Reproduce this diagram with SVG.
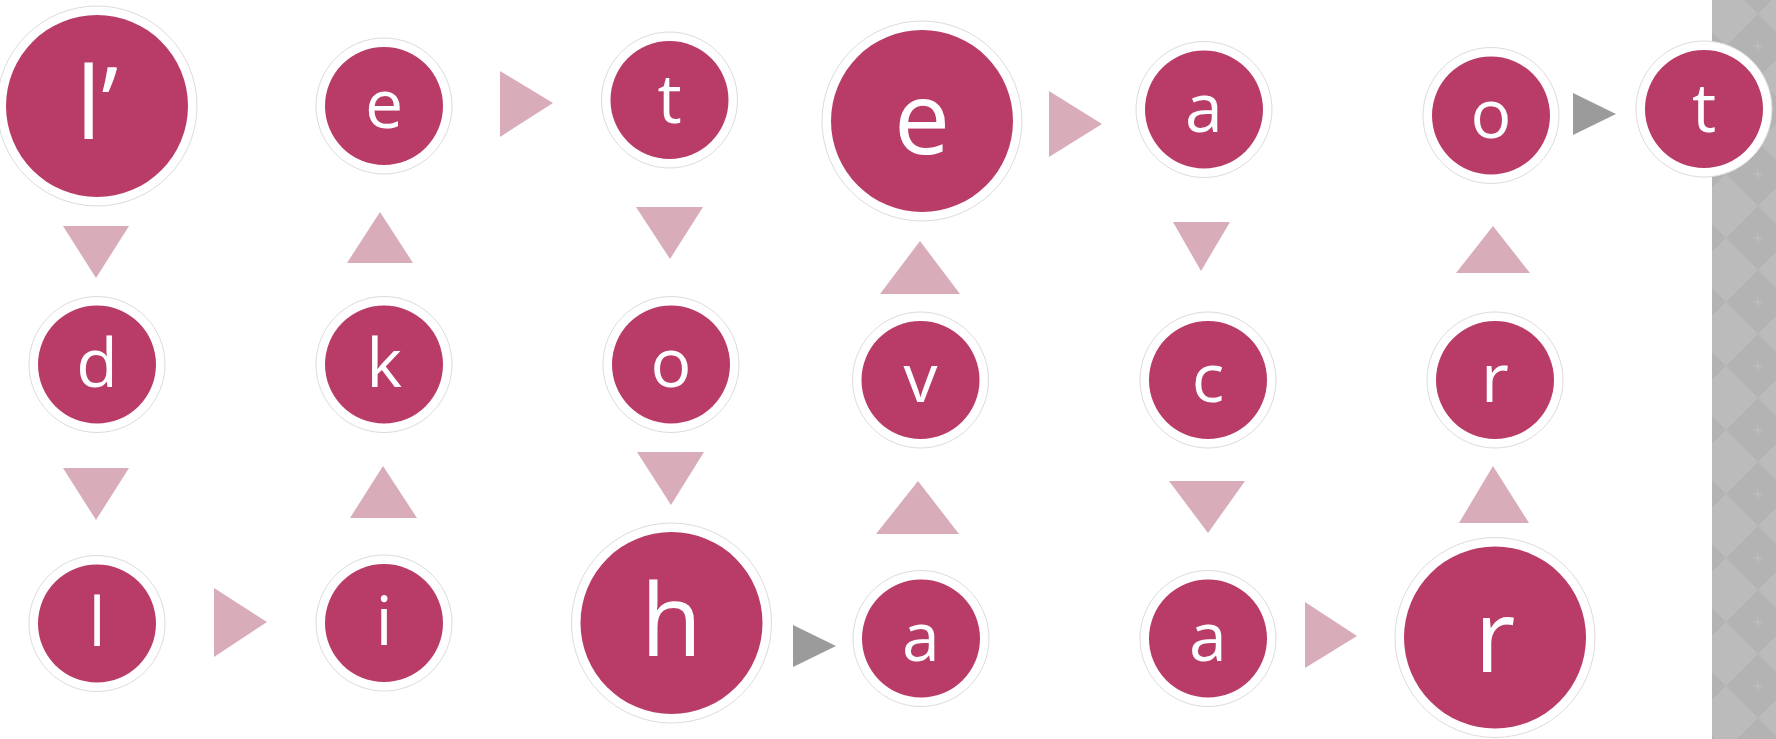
<svg xmlns="http://www.w3.org/2000/svg" width="1776" height="739" viewBox="0 0 1776 739">
<style>
.ring{fill:#ffffff;stroke:#dcdcdc;stroke-width:1}
.fill{fill:#b93b67}
.lt{fill:#ffffff;font-family:"Open Sans","Liberation Sans",sans-serif;text-anchor:middle}
.s{font-size:68px}
.b{font-size:100px}
.pk{fill:#d8adb9}
.gr{fill:#9b9b9b}
</style>
<defs>
<pattern id="argyle" x="1726" y="14" width="64" height="64" patternUnits="userSpaceOnUse">
<rect width="64" height="64" fill="#bbbbbb"/>
<polygon points="32,0 64,32 32,64 0,32" fill="#b3b3b3"/>
<path d="M28 32h8M32 28v8" stroke="#c4c4c4" stroke-width="1"/>
</pattern>
</defs>
<rect x="0" y="0" width="1776" height="739" fill="#ffffff"/>
<rect id="panel" x="1712" y="0" width="64" height="739" fill="url(#argyle)"/>
<g id="connectors">
<polygon class="pk" points="63,226 129,226 96,278"/>
<polygon class="pk" points="63,468 129,468 96,520"/>
<polygon class="pk" points="214,588 267,622 214,657"/>
<polygon class="pk" points="350,518 417,518 383,466"/>
<polygon class="pk" points="347,263 413,263 380,212"/>
<polygon class="pk" points="500,71 553,103 500,137"/>
<polygon class="pk" points="636,207 703,207 670,259"/>
<polygon class="pk" points="637,452 704,452 671,505"/>
<polygon class="gr" points="793,625 836,646 793,667"/>
<polygon class="pk" points="876,534 959,534 918,481"/>
<polygon class="pk" points="880,294 960,294 920,241"/>
<polygon class="pk" points="1049,91 1102,124 1049,157"/>
<polygon class="pk" points="1173,222 1230,222 1201,271"/>
<polygon class="pk" points="1169,481 1245,481 1208,533"/>
<polygon class="pk" points="1305,602 1357,636 1305,668"/>
<polygon class="pk" points="1459,523 1529,523 1493,466"/>
<polygon class="pk" points="1456,273 1530,273 1493,226"/>
<polygon class="gr" points="1573,93 1616,114 1573,135"/>
</g>
<g id="n-l1"><circle class="ring" cx="97" cy="106" r="100"/><circle class="fill" cx="97" cy="106" r="91"/><text class="lt b" x="97" y="139">l’</text></g>
<g id="n-e1"><circle class="ring" cx="384" cy="106" r="68"/><circle class="fill" cx="384" cy="106" r="59"/><text class="lt s" x="384" y="128">e</text></g>
<g id="n-t1"><circle class="ring" cx="669.5" cy="100" r="68"/><circle class="fill" cx="669.5" cy="100" r="59"/><text class="lt s" x="669.5" y="123">t</text></g>
<g id="n-e2"><circle class="ring" cx="922" cy="121" r="100"/><circle class="fill" cx="922" cy="121" r="91"/><text class="lt b" x="922" y="154">e</text></g>
<g id="n-a1"><circle class="ring" cx="1204" cy="109.5" r="68"/><circle class="fill" cx="1204" cy="109.5" r="59"/><text class="lt s" x="1204" y="131.5">a</text></g>
<g id="n-o1"><circle class="ring" cx="1491" cy="115.5" r="68"/><circle class="fill" cx="1491" cy="115.5" r="59"/><text class="lt s" x="1491" y="137.5">o</text></g>
<g id="n-t2"><circle class="ring" cx="1704" cy="109" r="68"/><circle class="fill" cx="1704" cy="109" r="59"/><text class="lt s" x="1704" y="132">t</text></g>
<g id="n-d"><circle class="ring" cx="97" cy="364.5" r="68"/><circle class="fill" cx="97" cy="364.5" r="59"/><text class="lt s" x="97" y="386.5">d</text></g>
<g id="n-k"><circle class="ring" cx="384" cy="364.5" r="68"/><circle class="fill" cx="384" cy="364.5" r="59"/><text class="lt s" x="384" y="386.5">k</text></g>
<g id="n-o2"><circle class="ring" cx="671" cy="364.5" r="68"/><circle class="fill" cx="671" cy="364.5" r="59"/><text class="lt s" x="671" y="386.5">o</text></g>
<g id="n-v"><circle class="ring" cx="920.5" cy="380" r="68"/><circle class="fill" cx="920.5" cy="380" r="59"/><text class="lt s" x="920.5" y="402">v</text></g>
<g id="n-c"><circle class="ring" cx="1208" cy="380" r="68"/><circle class="fill" cx="1208" cy="380" r="59"/><text class="lt s" x="1208" y="402">c</text></g>
<g id="n-r1"><circle class="ring" cx="1495" cy="380" r="68"/><circle class="fill" cx="1495" cy="380" r="59"/><text class="lt s" x="1495" y="402">r</text></g>
<g id="n-l2"><circle class="ring" cx="97" cy="623.5" r="68"/><circle class="fill" cx="97" cy="623.5" r="59"/><text class="lt s" x="97" y="645.5">l</text></g>
<g id="n-i"><circle class="ring" cx="384" cy="623" r="68"/><circle class="fill" cx="384" cy="623" r="59"/><text class="lt s" x="384" y="645">i</text></g>
<g id="n-h"><circle class="ring" cx="671.5" cy="623" r="100"/><circle class="fill" cx="671.5" cy="623" r="91"/><text class="lt b" x="671.5" y="656">h</text></g>
<g id="n-a2"><circle class="ring" cx="921" cy="638.5" r="68"/><circle class="fill" cx="921" cy="638.5" r="59"/><text class="lt s" x="921" y="660.5">a</text></g>
<g id="n-a3"><circle class="ring" cx="1208" cy="638.5" r="68"/><circle class="fill" cx="1208" cy="638.5" r="59"/><text class="lt s" x="1208" y="660.5">a</text></g>
<g id="n-r2"><circle class="ring" cx="1495" cy="637.5" r="100"/><circle class="fill" cx="1495" cy="637.5" r="91"/><text class="lt b" x="1495" y="672">r</text></g>
</svg>
